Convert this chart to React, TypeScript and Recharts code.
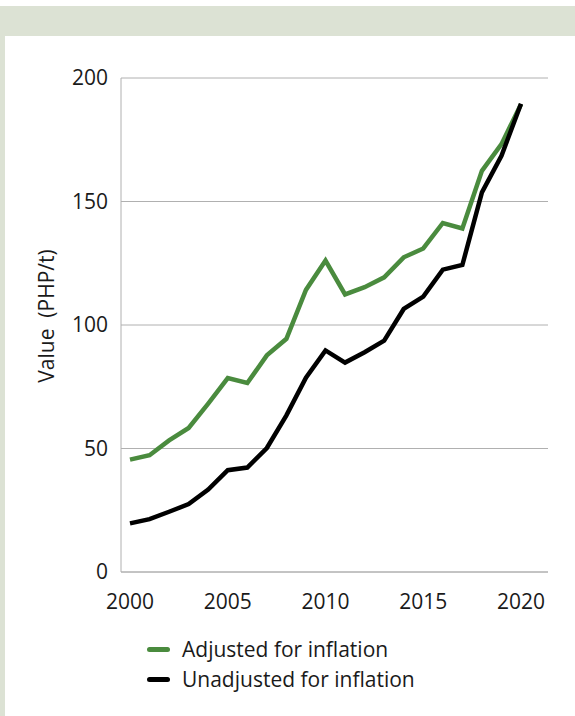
import React from "react";
import {
  LineChart,
  Line,
  XAxis,
  YAxis,
  CartesianGrid,
} from "recharts";

const years = [
  2000, 2001, 2002, 2003, 2004, 2005, 2006, 2007, 2008, 2009, 2010, 2011,
  2012, 2013, 2014, 2015, 2016, 2017, 2018, 2019, 2020,
];
const adjusted = [
  45.5, 47.3, 53.3, 58.3, 68.2, 78.5, 76.5, 87.7, 94.4, 114.2, 126.1, 112.4,
  115.3, 119.3, 127.4, 131.0, 141.3, 139.1, 162.4, 173.2, 189.4,
];
const unadjusted = [
  19.7, 21.4, 24.4, 27.5, 33.4, 41.2, 42.3, 50.2, 63.4, 78.7, 89.7, 84.8,
  89.0, 93.7, 106.5, 111.5, 122.4, 124.3, 153.7, 168.5, 189.6,
];
const xTicks = [2000, 2005, 2010, 2015, 2020];
const yTicks = [0, 50, 100, 150, 200];

const GREEN = "#4a8b3e";
const BLACK = "#000000";
const GRID = "#b0b0b0";
const FONT = "'Open Sans', 'Noto Sans', sans-serif";

const data = years.map((year, i) => ({
  year,
  adjusted: adjusted[i],
  unadjusted: unadjusted[i],
}));

function LegendRow({ color, label }: { color: string; label: string }) {
  return (
    <div style={{ display: "flex", alignItems: "center", height: 30 }}>
      <span
        style={{
          display: "inline-block",
          width: 23,
          height: 5,
          borderRadius: 3,
          background: color,
          marginRight: 12,
        }}
      />
      <span style={{ fontSize: 21, color: "#1a1a1a" }}>{label}</span>
    </div>
  );
}

export default function App() {
  return (
    <div
      style={{
        position: "relative",
        width: 575,
        height: 716,
        background: "#ffffff",
        fontFamily: FONT,
        overflow: "hidden",
      }}
    >
      <style>{"body{margin:0}"}</style>
      {/* frame */}
      <div
        style={{
          position: "absolute",
          left: 0,
          top: 6,
          width: 575,
          height: 710,
          background: "#dce2d4",
        }}
      />
      <div
        style={{
          position: "absolute",
          left: 5,
          top: 36,
          width: 570,
          height: 680,
          background: "#ffffff",
        }}
      />

      <div style={{ position: "absolute", left: 0, top: 0 }}>
        <LineChart
          width={575}
          height={620}
          data={data}
          margin={{ top: 78, right: 27, bottom: 8, left: 61 }}
        >
          <CartesianGrid stroke={GRID} vertical={false} />
          <XAxis
            dataKey="year"
            type="number"
            domain={[1999.54, 2021.38]}
            ticks={xTicks}
            height={40}
            tickLine={false}
            tickMargin={16}
            axisLine={{ stroke: GRID }}
            tick={{ fontSize: 21, fill: "#1a1a1a", fontFamily: FONT }}
          />
          <YAxis
            domain={[0, 200]}
            ticks={yTicks}
            width={60}
            tickLine={false}
            tickMargin={7}
            axisLine={{ stroke: GRID }}
            tick={{ fontSize: 21, fill: "#1a1a1a", fontFamily: FONT }}
          />
          <text
            x={46}
            y={316}
            transform="rotate(-90, 46, 316)"
            textAnchor="middle"
            dominantBaseline="central"
            style={{ whiteSpace: "pre", fontSize: 21, fill: "#1a1a1a", fontFamily: FONT }}
          >
            {"Value  (PHP/t)"}
          </text>
          <Line
            dataKey="adjusted"
            stroke={GREEN}
            strokeWidth={4.5}
            dot={false}
            isAnimationActive={false}
          />
          <Line
            dataKey="unadjusted"
            stroke={BLACK}
            strokeWidth={4.5}
            dot={false}
            isAnimationActive={false}
          />
        </LineChart>
      </div>

      <div style={{ position: "absolute", left: 147, top: 634 }}>
        <LegendRow color={GREEN} label="Adjusted for inflation" />
        <LegendRow color={BLACK} label="Unadjusted for inflation" />
      </div>
    </div>
  );
}
